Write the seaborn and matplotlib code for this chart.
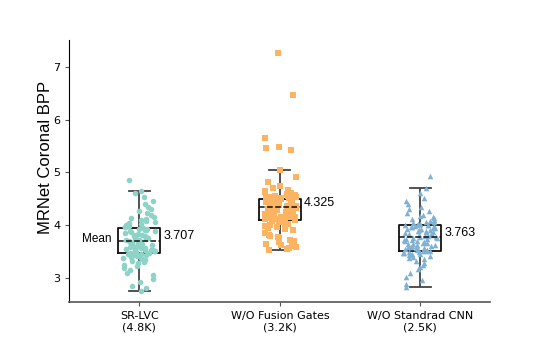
import numpy as np
import pandas as pd
import seaborn as sns
import matplotlib.pyplot as plt

# categories and tick labels
models = ["SR-LVC", "W/O Fusion Gates", "W/O Standrad CNN"]
tick_labels = ["SR-LVC\n(4.8K)", "W/O Fusion Gates\n(3.2K)", "W/O Standrad CNN\n(2.5K)"]
mean_labels = [3.707, 4.325, 3.763]

# per-image BPP values
bpp_sr_lvc = [
    2.75, 2.80, 2.85, 2.92, 2.98, 3.05, 3.10, 3.15, 3.19, 3.22,
    3.25, 3.28, 3.30, 3.32, 3.34, 3.36, 3.37, 3.38, 3.40, 3.41,
    3.42, 3.43, 3.44, 3.45, 3.46,
    3.47, 3.48, 3.48, 3.49, 3.50, 3.51, 3.52, 3.52, 3.53, 3.54,
    3.55, 3.56, 3.56, 3.57, 3.58, 3.59, 3.60, 3.60, 3.61, 3.62,
    3.63, 3.64, 3.65, 3.66, 3.67, 3.68, 3.69, 3.70, 3.71, 3.72,
    3.73, 3.74, 3.75, 3.76, 3.77, 3.78, 3.79, 3.80, 3.81, 3.82,
    3.83, 3.85, 3.86, 3.88, 3.89, 3.90, 3.91, 3.92, 3.93, 3.95,
    3.96, 3.97, 3.98, 3.99, 4.00, 4.01, 4.02, 4.04, 4.05, 4.07,
    4.09, 4.11, 4.13, 4.16, 4.19, 4.22, 4.26, 4.30, 4.35, 4.40,
    4.46, 4.53, 4.60, 4.64, 4.85,
]
bpp_no_gates = [
    3.53, 3.55, 3.57, 3.59, 3.61, 3.63, 3.65, 3.68, 3.70, 3.72,
    3.75, 3.78, 3.80, 3.82, 3.85, 3.90, 3.92, 3.94, 3.96, 3.98,
    4.00, 4.02, 4.04, 4.06, 4.08,
    4.09, 4.10, 4.11, 4.12, 4.13, 4.14, 4.15, 4.15, 4.16, 4.17,
    4.18, 4.19, 4.20, 4.20, 4.21, 4.22, 4.23, 4.24, 4.24, 4.25,
    4.26, 4.27, 4.28, 4.28, 4.29, 4.29, 4.29, 4.30, 4.30, 4.31,
    4.31, 4.32, 4.32, 4.33, 4.34, 4.35, 4.36, 4.37, 4.38, 4.40,
    4.41, 4.43, 4.44, 4.46, 4.47, 4.48, 4.49, 4.49, 4.50, 4.50,
    4.51, 4.51, 4.52, 4.52, 4.53, 4.54, 4.55, 4.56, 4.57, 4.58,
    4.60, 4.62, 4.64, 4.67, 4.70, 4.75, 4.82, 4.92, 5.04,
    5.42, 5.47, 5.48, 5.65, 6.47, 7.27,
]
bpp_no_cnn = [
    2.83, 2.88, 2.95, 3.02, 3.10, 3.16, 3.21, 3.25, 3.29, 3.32,
    3.35, 3.37, 3.39, 3.41, 3.43, 3.44, 3.45, 3.46, 3.47, 3.48,
    3.49, 3.49, 3.50, 3.50, 3.51,
    3.52, 3.53, 3.54, 3.55, 3.56, 3.57, 3.58, 3.59, 3.60, 3.61,
    3.62, 3.63, 3.64, 3.65, 3.66, 3.67, 3.68, 3.69, 3.70, 3.71,
    3.72, 3.73, 3.74, 3.75, 3.76, 3.77, 3.78, 3.79, 3.80, 3.81,
    3.82, 3.83, 3.84, 3.85, 3.86, 3.87, 3.88, 3.89, 3.90, 3.91,
    3.92, 3.93, 3.94, 3.95, 3.96, 3.97, 3.98, 3.99, 4.00, 4.00,
    4.01, 4.01, 4.02, 4.02, 4.03, 4.04, 4.05, 4.06, 4.08, 4.10,
    4.12, 4.14, 4.16, 4.18, 4.20, 4.23, 4.26, 4.30, 4.34, 4.40,
    4.46, 4.52, 4.60, 4.70, 4.93,
]

colors = ["#8dd3c7", "#fdb462", "#80b1d3"]
markers = ["o", "s", "^"]

df = pd.DataFrame({
    "model": [models[0]] * len(bpp_sr_lvc) + [models[1]] * len(bpp_no_gates) + [models[2]] * len(bpp_no_cnn),
    "bpp": bpp_sr_lvc + bpp_no_gates + bpp_no_cnn,
})

np.random.seed(3)
fig, ax = plt.subplots(figsize=(5.45, 3.41), dpi=100)

sns.boxplot(data=df, x="model", y="bpp", order=models, width=0.3, fill=False,
            color="#111111", linewidth=1.3, showfliers=False, showmeans=True, meanline=True,
            meanprops={"linestyle": "--", "color": "#111111", "linewidth": 1.1, "zorder": 5},
            medianprops={"visible": False},
            whiskerprops={"color": "#444444"}, capprops={"color": "#444444"},
            ax=ax, zorder=2)

for name, col, mk in zip(models, colors, markers):
    sub = df[df["model"] == name]
    sns.stripplot(data=sub, x="model", y="bpp", order=models, color=col, marker=mk,
                  size=4, jitter=0.12, linewidth=0, ax=ax, zorder=3)

for i, m in enumerate(mean_labels):
    ax.text(i + 0.17, m + 0.09, f"{m:.3f}", ha="left", va="center", fontsize=9,
            family="Liberation Sans", color="black")
ax.text(-0.2, mean_labels[0] + 0.03, "Mean", ha="right", va="center", fontsize=8.5,
        family="Liberation Sans", color="black")

ax.set_ylim(2.54, 7.51)
ax.set_xlim(-0.5, 2.5)
ax.set_xticks(range(len(models)))
ax.set_xticklabels(tick_labels, fontsize=8)
ax.tick_params(axis="both", labelsize=8, length=3, color="#555555", labelcolor="black")
ax.set_xlabel("")
ax.set_ylabel("MRNet Coronal BPP", fontsize=12, family="Liberation Sans")
ax.yaxis.set_label_coords(-0.038, 0.553)
sns.despine(ax=ax)
ax.spines["bottom"].set_color("#555555")
ax.spines["bottom"].set_linewidth(1.2)
ax.spines["left"].set_color("black")

fig.subplots_adjust(left=0.127, right=0.9, bottom=0.114, top=0.883)
fig.savefig("out.png", dpi=100)
